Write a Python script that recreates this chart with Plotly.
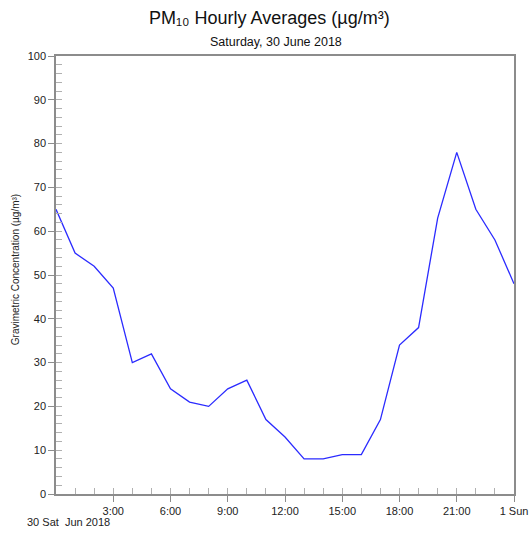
import plotly.graph_objects as go
import pandas as pd

hours = list(range(25))
pm10 = [65, 55, 52, 47, 30, 32, 24, 21, 20, 24, 26, 17, 13, 8, 8, 9, 9, 17, 34, 38, 63, 78, 65, 58, 48]
tick_hours = [3, 6, 9, 12, 15, 18, 21, 24]
tick_labels = ["3:00", "6:00", "9:00", "12:00", "15:00", "18:00", "21:00", "1 Sun"]

start = pd.Timestamp("2018-06-30 00:00")
times = [start + pd.Timedelta(hours=h) for h in hours]
tick_times = [start + pd.Timedelta(hours=h) for h in tick_hours]
x_range = [start, start + pd.Timedelta(hours=24)]

FONT = "Liberation Sans, Arial, sans-serif"
AX = "#8c8c8c"

fig = go.Figure()
fig.add_trace(go.Scatter(x=times, y=pm10, mode="lines",
                         line=dict(color="#2b2bff", width=1.3),
                         hoverinfo="x+y", showlegend=False))
# invisible trace for the overlay axes (inside ticks)
fig.add_trace(go.Scatter(x=[times[0]], y=[0], xaxis="x2", yaxis="y2",
                         mode="markers", marker=dict(opacity=0),
                         hoverinfo="skip", showlegend=False))

fig.update_layout(
    width=531, height=533,
    margin=dict(l=56, r=17, t=56, b=39, autoexpand=False),
    paper_bgcolor="white", plot_bgcolor="white",
    font=dict(family=FONT, size=11, color="#222"),
    xaxis=dict(type="date", range=x_range, tickvals=tick_times, ticktext=tick_labels,
               showgrid=False, zeroline=False, showline=True, linecolor=AX, linewidth=1.5,
               mirror=True, ticks="outside", ticklen=6, tickcolor=AX, tickwidth=1,
               tickfont=dict(size=11, color="#222"), automargin=False),
    yaxis=dict(range=[0, 100], tickvals=list(range(0, 101, 10)),
               showgrid=False, zeroline=False, showline=True, linecolor=AX, linewidth=1.5,
               mirror=True, ticks="outside", ticklen=6, tickcolor=AX, tickwidth=1,
               tickfont=dict(size=11, color="#222"), automargin=False),
    xaxis2=dict(type="date", range=x_range, overlaying="x", side="bottom",
                dtick=3600000, tick0=start, showticklabels=False, showgrid=False,
                zeroline=False, showline=False, ticks="inside", ticklen=6,
                tickcolor="#b0b0b0", tickwidth=1),
    yaxis2=dict(range=[0, 100], overlaying="y", side="left", dtick=2, tick0=0,
                showticklabels=False, showgrid=False, zeroline=False, showline=False,
                ticks="inside", ticklen=6, tickcolor="#b0b0b0", tickwidth=1),
    annotations=[
        dict(text="PM₁₀ Hourly Averages (µg/m³)", xref="paper", yref="paper",
             x=0.467, y=1.0, yshift=38, showarrow=False,
             font=dict(size=18, color="#111"), xanchor="center", yanchor="middle"),
        dict(text="Saturday, 30 June 2018", xref="paper", yref="paper",
             x=0.48, y=1.0, yshift=14, showarrow=False,
             font=dict(size=12.5, color="#111"), xanchor="center", yanchor="middle"),
        dict(text="Gravimetric Concentration (µg/m³)", xref="paper", yref="paper",
             x=0, xshift=-41, y=0.511, textangle=-90, showarrow=False,
             font=dict(size=10, color="#222"), xanchor="center", yanchor="middle"),
        dict(text="30 Sat  Jun 2018", xref="paper", yref="paper",
             x=0, xshift=-31, y=0, yshift=-28, showarrow=False,
             font=dict(size=11, color="#222"), xanchor="left", yanchor="middle"),
    ],
)

fig.write_html(
    "out.html",
    config={"displayModeBar": False},
    post_script="document.body.style.margin='0';document.body.style.overflow='hidden';",
)
